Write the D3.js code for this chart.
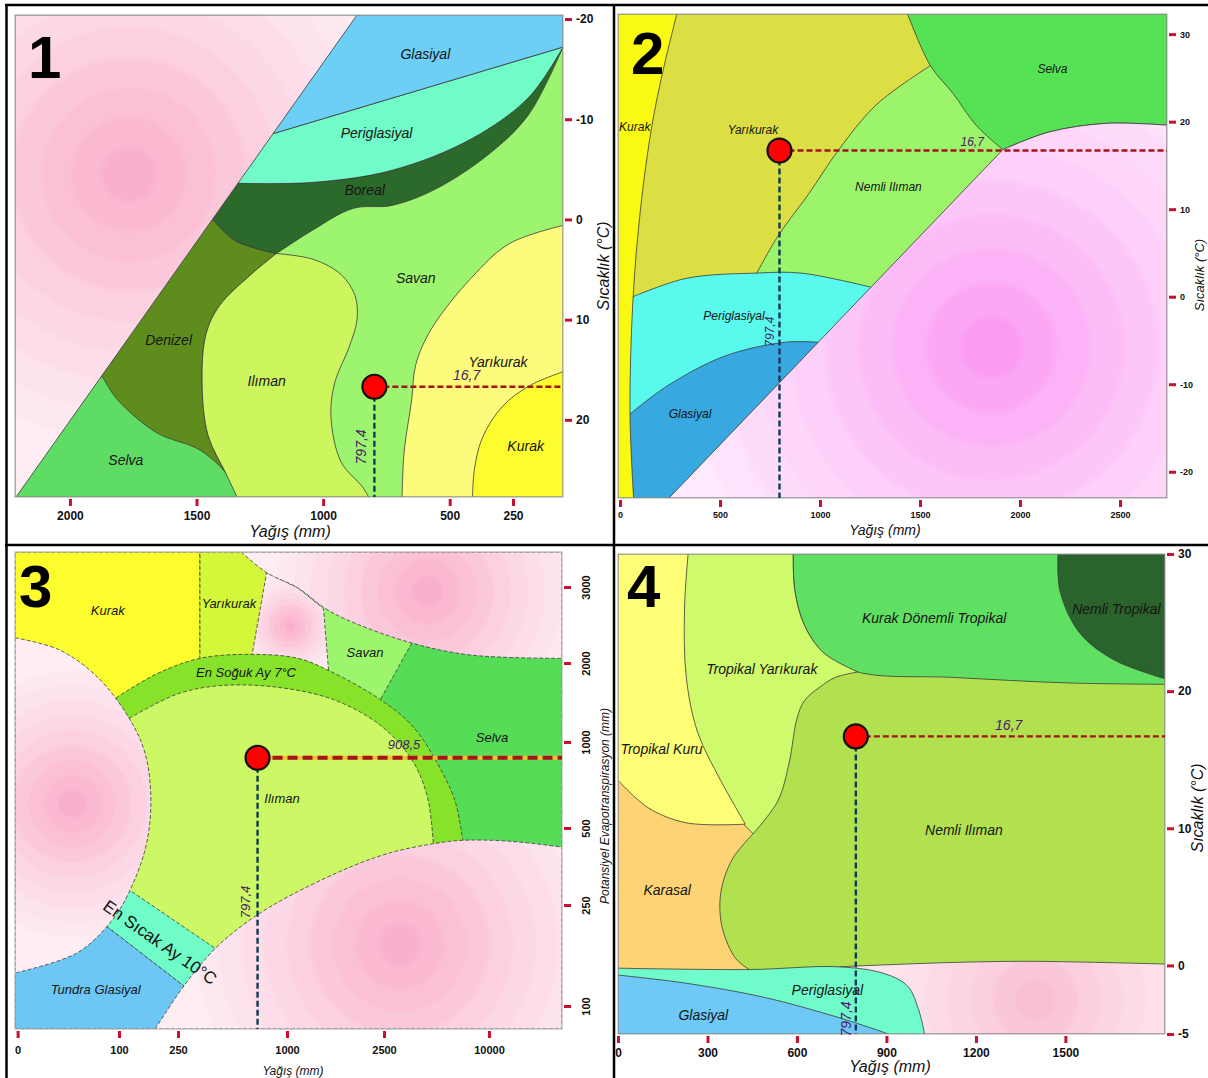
<!DOCTYPE html>
<html lang="tr">
<head>
<meta charset="utf-8">
<title>İklim sınıflandırma diyagramları</title>
<script src="https://cdn.jsdelivr.net/npm/d3@7/dist/d3.min.js"></script>
<style>
  html, body { margin: 0; padding: 0; background: #ffffff; }
  svg { display: block; font-family: Arial, "Liberation Sans", Helvetica, sans-serif; }
</style>
</head>
<body>
<svg id="chart" width="1208" height="1078"></svg>
<script>
// ---------- İstasyon değerleri ----------
const stationPrecip = 797.4;   // yıllık yağış (mm)
const stationTemp = 16.7;      // yıllık ortalama sıcaklık (°C)
const stationPET = 908.5;      // potansiyel evapotranspirasyon (mm)

// Bölge sınırları: her parça ["c", ...noktalar] = eğri, ["l", ...noktalar] = düz çizgi.
// Noktalar [yağış (mm), sıcaklık (°C) / PET (mm)] veri birimindedir.

// ---------- Diyagram 1 ----------
const p1XTicks = [2000, 1500, 1000, 500, 250];
const p1YTicks = [-20, -10, 0, 10, 20];
const p1Savan = [["l", [2217, -20.4], [52.4, -20.4], [52.4, 27.7], [2217, 27.7]]];
const p1Yarikurak = [["c", [52.4, 0.6], [263, 2.4], [417, 5.9], [574, 11.0], [634, 14.5], [650, 18.0], [680, 23.2], [688, 27.7]], ["l", [688, 27.7], [52.4, 27.7]]];
const p1Kurak = [["c", [52.4, 15.2], [185, 16.6], [293, 18.7], [371, 21.8], [402, 24.9], [410, 27.7]], ["l", [410, 27.7], [52.4, 27.7]]];
const p1Denizel = [["c", [1432, 0.1], [1348, 2.1], [1184, 3.4]], ["c", [1184, 3.4], [1285, 5.5], [1409, 8.6], [1462, 11.4], [1478, 16.2], [1455, 21.5], [1385, 25.3], [1340, 27.7]], ["l", [1340, 27.7], [2217, 27.7], [2217, 0.1]]];
const p1Selva = [["c", [1871, 15.7], [1812, 18.0], [1656, 21.3], [1502, 22.8], [1439, 23.9], [1385, 25.3], [1340, 27.7]], ["l", [1340, 27.7], [2217, 27.7], [2217, 15.7]]];
const p1Iliman = [["c", [1340, 27.7], [1385, 25.3], [1455, 21.5], [1478, 16.2], [1462, 11.4], [1409, 8.6], [1285, 5.5], [1184, 3.4]], ["c", [1184, 3.4], [1037, 4.0], [929, 5.5], [874, 7.6], [866, 10.0], [898, 12.8], [953, 16.2], [969, 19.7], [929, 24.2], [844, 26.7], [820, 27.7]]];
const p1Boreal = [["c", [1332, -3.6], [1037, -3.7], [728, -4.9], [417, -8.0], [187, -12.2], [52.4, -17.2]], ["c", [52.4, -17.2], [187, -10.5], [341, -6.6], [558, -3.0], [728, -1.4], [882, -1.1], [1037, 1.0], [1184, 3.4]], ["c", [1184, 3.4], [1348, 2.1], [1432, 0.1]], ["l", [1432, 0.1], [1500, -3.6]]];
const p1Periglasiyal = [["l", [1192, -8.6], [52.4, -17.2]], ["c", [52.4, -17.2], [187, -12.2], [417, -8.0], [728, -4.9], [1037, -3.7], [1332, -3.6]], ["l", [1332, -3.6], [1500, -8.6]]];
const p1Glasiyal = [["l", [866, -20.4], [52.4, -20.4], [52.4, -17.2], [1192, -8.6], [1300, -20.4]]];
const p1Excluded = [["l", [2217, -20.4], [866, -20.4], [2213, 27.7], [2217, 27.7]]];
const p1Names = ["Glasiyal", "Periglasiyal", "Boreal", "Savan", "Denizel", "Ilıman", "Yarıkurak", "Kurak", "Selva"];
const p1NameAt = [[596, -16.5], [789, -8.6], [836, -2.9], [634, 5.8], [1610, 12.0], [1223, 16.1], [309, 14.2], [200, 22.6], [1779, 24.0]];

// ---------- Diyagram 2 ----------
const p2XTicks = [0, 500, 1000, 1500, 2000, 2500];
const p2YTicks = [30, 20, 10, 0, -10, -20];
const p2Yarikurak = [["l", [-10, 32.3], [2735, 32.3], [2735, -23], [-10, -23]]];
const p2Nemli = [["c", [1552, 26.4], [1285, 22.0], [1094, 16.8], [942, 11.7], [789, 6.9], [684, 2.7]], ["l", [684, 2.7], [575, -3.8], [2735, -3.8], [2735, 26.4]]];
const p2Selva = [["c", [1438, 32.3], [1552, 26.4], [1666, 23.2], [1780, 19.6], [1914, 16.8]], ["c", [1914, 16.8], [2143, 18.8], [2429, 19.8], [2735, 19.6]], ["l", [2735, 19.6], [2735, 32.3]]];
const p2Periglasiyal = [["c", [65, 0.0], [332, 2.1], [684, 2.7], [904, 2.7], [1253, 1.1]], ["l", [1253, 1.1], [1253, -23], [-10, -23], [-10, 0.0]]];
const p2Glasiyal = [["c", [50, -13.4], [236, -10.2], [522, -6.8], [827, -5.2], [990, -5.2]], ["l", [990, -5.2], [990, -23], [-10, -23], [-10, -13.4]]];
const p2Kurak = [["l", [-10, 32.3], [284, 32.3]], ["c", [284, 32.3], [217, 26.0], [160, 19.6], [103, 10.1], [65, -0.3], [50, -13.4], [68, -23]], ["l", [68, -23], [-10, -23]]];
const p2Excluded = [["l", [245, -23], [1914, 16.8]], ["c", [1914, 16.8], [2143, 18.8], [2429, 19.8], [2735, 19.6]], ["l", [2735, 19.6], [2735, -23]]];
const p2Names = ["Kurak", "Yarıkurak", "Selva", "Nemli Ilıman", "Periglasiyal", "Glasiyal"];
const p2NameAt = [[74, 19.4], [665, 19.0], [2162, 26.0], [1342, 12.5], [570, -2.2], [350, -13.4]];

// ---------- Diyagram 3 ----------
const p3XTicks = [0, 100, 250, 1000, 2500, 10000];
const p3YTicks = [100, 250, 500, 1000, 2000, 3000];
const p3Selva = [["l", [1820, 3460], [15200, 3460], [15200, 66], [1820, 66]]];
const p3Savan = [["l", [1201, 2961], [4714, 2961], [4486, 2263], [2444, 1537], [1928, 895], [1201, 895]]];
const p3Kurak = [["l", [-2.6, 3460], [401, 3460], [401, 895], [-2.6, 895]]];
const p3Yarikurak = [["l", [401, 3460], [952, 3460], [952, 895], [401, 895]]];
const p3ExclD = [["l", [860, 3189], [1170, 2987], [1564, 2716], [1643, 1906], [1665, 895], [745, 895], [759, 2105]]];
const p3ExclC = [["c", [684, 3460], [860, 3189], [1170, 2987], [1595, 2716], [2021, 2534], [4486, 2263], [8686, 2105], [15200, 2061]], ["l", [15200, 2061], [15200, 3460]]];
const p3Ring = [["c", [97, 1558], [196, 1863], [401, 2061], [752, 2114], [1170, 2061], [1643, 1906], [2444, 1537], [4486, 1211], [6164, 898], [7572, 658], [8122, 460]], ["l", [8122, 460], [9357, 66], [81, 66]]];
const p3Iliman = [["c", [126, 1299], [246, 1603], [522, 1711], [914, 1697], [1716, 1537], [2444, 1211], [4486, 898], [5607, 678], [6021, 449]], ["l", [6021, 449], [6500, 66], [91, 66]]];
const p3Band = [["l", [93, 337], [626, 168], [403, 111], [69, 240]]];
const p3Tundra = [["l", [69, 240], [403, 111], [401, 66], [-2.6, 66], [-2.6, 240]]];
const p3ExclLeft = [["c", [-2.6, 2332], [41, 2174], [79, 1819], [126, 1299], [166, 937], [181, 678], [171, 455], [136, 321], [95, 231], [60, 180], [-2.6, 149]]];
const p3ExclB = [["c", [192, 66], [291, 130], [509, 186], [766, 231], [1108, 287], [2021, 377], [3071, 421], [6021, 449], [8122, 460], [11496, 457], [15200, 438]], ["l", [15200, 438], [15200, 66]]];
const p3Names = ["Kurak", "Yarıkurak", "Savan", "Selva", "En Soğuk Ay 7°C", "Ilıman", "Tundra Glasiyal"];
const p3NameAt = [[89, 2697], [601, 2783], [2206, 2132], [10214, 1063], [718, 1886], [966, 669], [77, 124.5]];

// ---------- Diyagram 4 ----------
const p4XTicks = [0, 300, 600, 900, 1200, 1500];
const p4YTicks = [30, 20, 10, 0, -5];
const p4Nemli = [["l", [0, 30], [1834, 30], [1834, -5], [0, -5]]];
const p4KuDonemli = [["c", [587, 30], [593, 27.3], [625, 24.8], [689, 22.8], [804, 21.4], [1124, 21.0], [1508, 20.6], [1834, 20.5]], ["l", [1834, 20.5], [1834, 30]]];
const p4NemliTrop = [["c", [1475, 30], [1482, 27.3], [1546, 24.3], [1661, 22.3], [1834, 20.9]], ["l", [1834, 20.9], [1834, 30]]];
const p4Karasal = [["l", [0, 19.4], [476, 19.4], [453, 9.6]], ["c", [453, 9.6], [382, 7.7], [344, 5.2], [350, 2.7], [395, 0.5], [440, -0.3]], ["l", [440, -0.3], [440, -2.5], [0, -2.5]]];
const p4TropYarikurak = [["l", [208, 30], [587, 30]], ["c", [587, 30], [593, 27.3], [625, 24.8], [689, 22.8], [804, 21.4]], ["c", [804, 21.4], [728, 21.0], [677, 20.3], [625, 19.3], [600, 18.0], [574, 14.8], [536, 12.0], [453, 9.6]], ["l", [453, 9.6], [275, 13.5], [208, 23.0]]];
const p4TropKuru = [["l", [0, 30], [235, 30]], ["c", [235, 30], [223, 26.0], [229, 21.0], [267, 17.0], [344, 13.5], [427, 10.3]], ["c", [427, 10.3], [229, 10.4], [101, 11.5], [0, 13.5]]];
const p4Excluded = [["c", [740, -0.1], [1098, 0.2], [1380, 0.3], [1834, 0.1]], ["l", [1834, 0.1], [1834, -5], [740, -5]]];
const p4Periglasiyal = [["c", [0, -0.2], [440, -0.3], [740, -0.1], [894, -0.6], [971, -1.5], [1009, -3.3], [1028, -5]], ["l", [1028, -5], [0, -5]]];
const p4Glasiyal = [["c", [0, -0.7], [229, -1.3], [485, -2.3], [740, -3.8], [907, -5]], ["l", [907, -5], [0, -5]]];
const p4Names = ["Tropikal Kuru", "Tropikal Yarıkurak", "Kurak Dönemli Tropikal", "Nemli Tropikal", "Nemli Ilıman", "Karasal", "Periglasiyal", "Glasiyal"];
const p4NameAt = [[146, 15.8], [482, 21.6], [1060, 25.3], [1671, 26.0], [1160, 9.9], [165, 5.5], [702, -1.8], [286, -3.6]];

// ---------- Çizim yardımcıları ----------
const svg = d3.select("#chart");
const defs = svg.append("defs");
const FONT = "Arial, 'Liberation Sans', Helvetica, sans-serif";

function regionPath(segs, sx, sy) {
  let d = "";
  segs.forEach((seg, i) => {
    const pts = seg.slice(1).map(p => [sx(p[0]), sy(p[1])]);
    const gen = d3.line().curve(seg[0] === "c" ? d3.curveCatmullRom.alpha(0.5) : d3.curveLinear);
    const s = gen(pts);
    d += i === 0 ? s : "L" + s.slice(1);
  });
  return d + "Z";
}

// Halkalı pembe dolgu (dışlanan alanlar)
function ringGradient(id, cx, cy, r, colors) {
  const g = defs.append("radialGradient").attr("id", id)
    .attr("gradientUnits", "userSpaceOnUse")
    .attr("cx", cx).attr("cy", cy).attr("r", r);
  const n = colors.length;
  colors.forEach((c, i) => {
    g.append("stop").attr("offset", i / n).attr("stop-color", c);
    g.append("stop").attr("offset", (i + 0.8) / n).attr("stop-color", c);
  });
  return `url(#${id})`;
}

const pinkRose = ["#f9b0cc", "#fab8d1", "#fbc0d6", "#fbc8db", "#fcd0e0", "#fcd7e5", "#fcdde9", "#fde3ed", "#fde8f0", "#feeef4"];
const pinkMagenta = ["#fb9cf3", "#fca7f4", "#fcb2f6", "#fcbcf7", "#fdc6f8", "#fdcff9", "#fdd6fa", "#fddcfb", "#fee3fc", "#feeafd"];
const pinkSoft = ["#f9c0d5", "#fac7da", "#fbcfdf", "#fcd5e3", "#fcdbe7", "#fde0ea", "#fde4ed", "#fde8f0"];

function drawPanel(P) {
  const [x0, x1] = d3.extent(P.sx.range());
  const [y0, y1] = d3.extent(P.sy.range());
  const clipId = P.id + "-clip";
  defs.append("clipPath").attr("id", clipId).append("rect")
    .attr("x", x0).attr("y", y0).attr("width", x1 - x0).attr("height", y1 - y0);
  const g = svg.append("g").attr("clip-path", `url(#${clipId})`);
  g.selectAll("path").data(P.regions).join("path")
    .attr("d", r => regionPath(r, P.sx, P.sy))
    .attr("fill", (r, i) => P.fills[i])
    .attr("stroke", "#3a3a3a").attr("stroke-width", 0.8)
    .attr("stroke-dasharray", P.dash || null)
    .attr("stroke-linejoin", "round");
  svg.append("rect").attr("x", x0).attr("y", y0).attr("width", x1 - x0).attr("height", y1 - y0)
    .attr("fill", "none").attr("stroke", "#a8a8a8").attr("stroke-width", 1);
  svg.append("g").selectAll("text").data(P.names).join("text")
    .attr("x", (d, i) => P.sx(P.nameAt[i][0]))
    .attr("y", (d, i) => P.sy(P.nameAt[i][1]))
    .attr("text-anchor", "middle").attr("dominant-baseline", "central")
    .attr("font-family", FONT).attr("font-style", "italic")
    .attr("font-size", P.nameSize).attr("fill", "#151515")
    .text(d => d);
}

function styleAxis(sel, size) {
  sel.select(".domain").remove();
  sel.selectAll(".tick line").attr("stroke", "#c8102e").attr("stroke-width", 3);
  sel.selectAll(".tick text").attr("font-family", FONT).attr("font-size", size)
    .attr("font-weight", "bold").attr("fill", "#111");
}

function drawAxes(P) {
  const [x0, x1] = d3.extent(P.sx.range());
  const [y0, y1] = d3.extent(P.sy.range());
  const ya = svg.append("g").attr("transform", `translate(${x1 + 2},0)`)
    .call(d3.axisRight(P.sy).tickValues(P.yTicks).tickSize(7).tickPadding(4).tickFormat(d => String(d)));
  styleAxis(ya, P.tickSize);
  if (P.rotateY) {
    ya.selectAll(".tick text").attr("transform", "rotate(-90)")
      .attr("x", 0).attr("y", 22).attr("dy", null)
      .attr("text-anchor", "middle").attr("dominant-baseline", "central");
  }
  const xa = svg.append("g").attr("transform", `translate(0,${y1 + 2})`)
    .call(d3.axisBottom(P.sx).tickValues(P.xTicks).tickSize(7).tickPadding(P.xPad).tickFormat(d => String(d)));
  styleAxis(xa, P.tickSize);
  svg.append("text").attr("x", P.xTitle[0]).attr("y", P.xTitle[1])
    .attr("text-anchor", "middle").attr("dominant-baseline", "central")
    .attr("font-family", FONT).attr("font-style", "italic").attr("font-size", P.xTitleSize)
    .attr("fill", "#111").text("Yağış (mm)");
  svg.append("text").attr("transform", `translate(${P.yTitle[0]},${P.yTitle[1]}) rotate(-90)`)
    .attr("text-anchor", "middle").attr("dominant-baseline", "central")
    .attr("font-family", FONT).attr("font-style", "italic").attr("font-size", P.yTitleSize)
    .attr("fill", "#111").text(P.yTitleText);
  svg.append("text").attr("x", P.numberAt[0]).attr("y", P.numberAt[1])
    .attr("font-family", FONT).attr("font-weight", "bold").attr("font-size", 60)
    .attr("fill", "#000").text(P.number);
}

function drawStation(P, yValue, S) {
  const [x0, x1] = d3.extent(P.sx.range());
  const [y0, y1] = d3.extent(P.sy.range());
  const cx = P.sx(stationPrecip), cy = P.sy(yValue);
  const g = svg.append("g");
  if (S.halo) {
    g.append("line").attr("x1", cx).attr("x2", x1).attr("y1", cy).attr("y2", cy)
      .attr("stroke", "#f1c232").attr("stroke-width", S.hWidth);
  }
  g.append("line").attr("x1", cx).attr("x2", x1).attr("y1", cy).attr("y2", cy)
    .attr("stroke", "#a3151b").attr("stroke-width", S.hWidth).attr("stroke-dasharray", S.hDash);
  g.append("line").attr("x1", cx).attr("x2", cx).attr("y1", cy).attr("y2", y1)
    .attr("stroke", "#103a55").attr("stroke-width", 2.4).attr("stroke-dasharray", "6,3");
  g.append("circle").attr("cx", cx).attr("cy", cy).attr("r", 12)
    .attr("fill", "#ff0000").attr("stroke", "#111").attr("stroke-width", 2.2);
  g.append("text").attr("x", P.sx(S.hLabelAt)).attr("y", cy - S.hLabelOff)
    .attr("text-anchor", "middle").attr("dominant-baseline", "central")
    .attr("font-family", FONT).attr("font-style", "italic").attr("font-size", S.size)
    .attr("fill", "#4a2068").text(S.hText);
  g.append("text").attr("transform", `translate(${cx - S.vLabelOff},${P.sy(S.vLabelAt)}) rotate(-90)`)
    .attr("text-anchor", "middle").attr("dominant-baseline", "central")
    .attr("font-family", FONT).attr("font-style", "italic").attr("font-size", S.size)
    .attr("fill", "#4a2068").text("797,4");
}

// ---------- Diyagram 1: sıcaklık – yağış (ters yağış ekseni) ----------
const p1 = {
  id: "p1",
  sx: d3.scaleLinear().domain([2217, 52.4]).range([15, 563]),
  sy: d3.scaleLinear().domain([-20.4, 27.7]).range([15, 497])
};
const p1Ex = ringGradient("p1ex", p1.sx(1767), p1.sy(-4.5), 300, pinkRose);
Object.assign(p1, {
  regions: [p1Savan, p1Yarikurak, p1Kurak, p1Denizel, p1Selva, p1Iliman, p1Boreal, p1Periglasiyal, p1Glasiyal, p1Excluded],
  fills: ["#9df56f", "#fdfb7b", "#fdfc2e", "#5e8d1e", "#5fdc63", "#cdf55d", "#2c6a2c", "#70fbc9", "#6dcff6", p1Ex],
  names: p1Names, nameAt: p1NameAt, nameSize: 14,
  xTicks: p1XTicks, yTicks: p1YTicks, tickSize: 12, xPad: 5,
  xTitle: [290, 531], xTitleSize: 16,
  yTitle: [603, 266], yTitleSize: 16, yTitleText: "Sıcaklık (°C)",
  number: "1", numberAt: [28, 78]
});
drawPanel(p1);
drawAxes(p1);
drawStation(p1, stationTemp, { hWidth: 2.6, hDash: "6,3", hLabelAt: 433, hLabelOff: 12, hText: "16,7", vLabelAt: 22.7, vLabelOff: 13, size: 14 });

// ---------- Diyagram 2 ----------
const p2 = {
  id: "p2",
  sx: d3.scaleLinear().domain([-10, 2735]).range([618, 1167]),
  sy: d3.scaleLinear().domain([32.3, -23]).range([14, 498])
};
const p2Ex = ringGradient("p2ex", p2.sx(1857), p2.sy(-5.8), 340, pinkMagenta);
Object.assign(p2, {
  regions: [p2Yarikurak, p2Nemli, p2Selva, p2Periglasiyal, p2Glasiyal, p2Kurak, p2Excluded],
  fills: ["#dbdf43", "#9bf46a", "#55e355", "#59f9ee", "#37a9e0", "#f9f914", p2Ex],
  names: p2Names, nameAt: p2NameAt, nameSize: 12,
  xTicks: p2XTicks, yTicks: p2YTicks, tickSize: 9, xPad: 5,
  xTitle: [885, 530], xTitleSize: 14,
  yTitle: [1199, 275], yTitleSize: 13, yTitleText: "Sıcaklık (°C)",
  number: "2", numberAt: [631, 74]
});
drawPanel(p2);
drawAxes(p2);
drawStation(p2, stationTemp, { hWidth: 2.4, hDash: "6,3", hLabelAt: 1761, hLabelOff: 9, hText: "16,7", vLabelAt: -4.0, vLabelOff: 9, size: 12 });

// ---------- Diyagram 3: PET – yağış ----------
const p3 = {
  id: "p3",
  sx: d3.scaleLinear().domain([-2.6, 0, 100, 250, 1000, 2500, 10000, 15200]).range([15, 17.6, 119, 178, 287, 384, 489, 562]),
  sy: d3.scaleLinear().domain([66, 100, 250, 500, 1000, 2000, 3000, 3460]).range([1029, 1006, 905, 828, 742, 663, 587, 552])
};
const p3ExL = ringGradient("p3exl", p3.sx(54), p3.sy(640), 150, pinkRose);
const p3ExB = ringGradient("p3exb", p3.sx(3643), p3.sy(191), 230, pinkRose);
const p3ExC = ringGradient("p3exc", p3.sx(5600), p3.sy(2940), 170, pinkRose);
const p3ExD = ringGradient("p3exd", p3.sx(1046), p3.sy(2487), 55, pinkRose);
Object.assign(p3, {
  regions: [p3Selva, p3Savan, p3Kurak, p3Yarikurak, p3ExclD, p3ExclC, p3Ring, p3Iliman, p3Band, p3Tundra, p3ExclLeft, p3ExclB],
  fills: ["#55dd57", "#9cf56d", "#fdfd2d", "#d5f73a", p3ExD, p3ExC, "#87e22a", "#cdf865", "#70fcc8", "#6dc7f5", p3ExL, p3ExB],
  dash: "4,2",
  names: p3Names, nameAt: p3NameAt, nameSize: 13,
  xTicks: p3XTicks, yTicks: p3YTicks, tickSize: 11, xPad: 8, rotateY: true,
  xTitle: [293, 1071], xTitleSize: 12,
  yTitle: [605, 806], yTitleSize: 12, yTitleText: "Potansiyel Evapotranspirasyon (mm)",
  number: "3", numberAt: [19, 607]
});
drawPanel(p3);
drawAxes(p3);
// sıcak ay bandı etiketi
svg.append("text")
  .attr("transform", `translate(${p3.sx(204)},${p3.sy(194)}) rotate(35)`)
  .attr("text-anchor", "middle").attr("dominant-baseline", "central")
  .attr("font-family", FONT).attr("font-size", 17).attr("fill", "#111")
  .text("En Sıcak Ay 10°C");
drawStation(p3, stationPET, { hWidth: 4, hDash: "10,5", halo: true, hLabelAt: 3929, hLabelOff: 13, hText: "908,5", vLabelAt: 260, vLabelOff: 12, size: 13 });

// ---------- Diyagram 4 ----------
const p4 = {
  id: "p4",
  sx: d3.scaleLinear().domain([0, 1834]).range([618, 1165]),
  sy: d3.scaleLinear().domain([30, -5]).range([554, 1034])
};
const p4Ex = ringGradient("p4ex", p4.sx(1400), p4.sy(-2.5), 180, pinkSoft);
Object.assign(p4, {
  regions: [p4Nemli, p4KuDonemli, p4NemliTrop, p4Karasal, p4TropYarikurak, p4TropKuru, p4Excluded, p4Periglasiyal, p4Glasiyal],
  fills: ["#b2e14f", "#60e062", "#2a632b", "#fdd374", "#cffa6c", "#fdfd76", p4Ex, "#70fbcb", "#6ec9f7"],
  names: p4Names, nameAt: p4NameAt, nameSize: 14,
  xTicks: p4XTicks, yTicks: p4YTicks, tickSize: 12, xPad: 5,
  xTitle: [890, 1066], xTitleSize: 16,
  yTitle: [1197, 808], yTitleSize: 16, yTitleText: "Sıcaklık (°C)",
  number: "4", numberAt: [627, 607]
});
drawPanel(p4);
drawAxes(p4);
drawStation(p4, stationTemp, { hWidth: 2.4, hDash: "6,3", hLabelAt: 1310, hLabelOff: 11, hText: "16,7", vLabelAt: -3.9, vLabelOff: 10, size: 14 });

// ---------- Çerçeve çizgileri ----------
const frame = svg.append("g").attr("stroke", "#000").attr("stroke-width", 2.5);
frame.append("line").attr("x1", 6.5).attr("y1", 4).attr("x2", 6.5).attr("y2", 1078);
frame.append("line").attr("x1", 5).attr("y1", 5).attr("x2", 1208).attr("y2", 5);
frame.append("line").attr("x1", 614).attr("y1", 4).attr("x2", 614).attr("y2", 1078);
frame.append("line").attr("x1", 5).attr("y1", 545).attr("x2", 1208).attr("y2", 545);
</script>
</body>
</html>
